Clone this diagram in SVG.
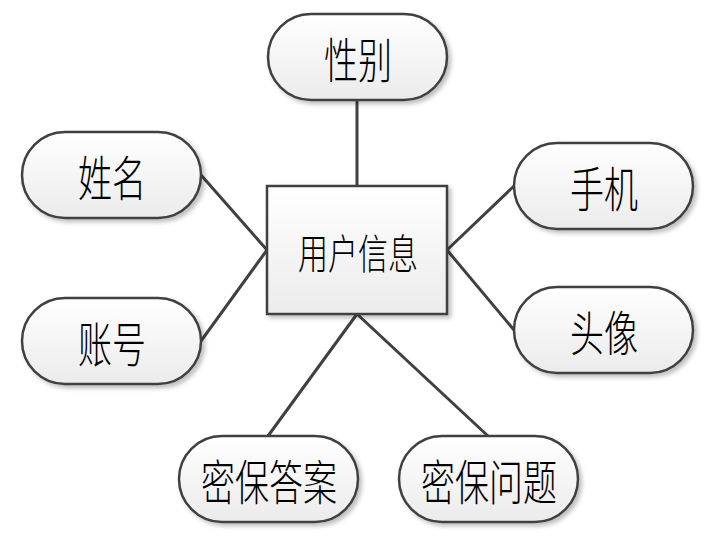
<svg xmlns="http://www.w3.org/2000/svg" width="713" height="541" viewBox="0 0 713 541">
<defs>
<linearGradient id="g" x1="0" y1="0" x2="0" y2="1">
<stop offset="0" stop-color="#ffffff"/>
<stop offset="1" stop-color="#ebebeb"/>
</linearGradient>
<filter id="sh" x="-10%" y="-10%" width="125%" height="130%">
<feDropShadow dx="3" dy="3" stdDeviation="2" flood-color="#000" flood-opacity="0.25"/>
</filter>
</defs>
<style>
.n{fill:url(#g);stroke:#404040;stroke-width:2.5;filter:url(#sh)}
.t{font-family:"Noto Sans CJK SC","Noto Sans CJK JP",sans-serif;font-weight:300;font-size:34px;fill:#000;text-anchor:middle;dominant-baseline:central}
.c{font-size:30px}
.e{stroke:#404040;stroke-width:3;fill:none}
</style>
<rect width="713" height="541" fill="#fff"/>
<g id="edges">
<line class="e" x1="357" y1="100" x2="357" y2="186"/>
<line class="e" x1="201" y1="175" x2="267" y2="250"/>
<line class="e" x1="201" y1="341" x2="267" y2="250"/>
<line class="e" x1="514" y1="186" x2="447" y2="250"/>
<line class="e" x1="514" y1="330" x2="447" y2="250"/>
<line class="e" x1="268" y1="436" x2="357" y2="314"/>
<line class="e" x1="488" y1="436" x2="357" y2="314"/>
</g>
<g id="user">
<rect class="n" x="267" y="186" width="180" height="128"/>
<text class="t c" transform="translate(358,251) scale(1,1.35)">用户信息</text>
</g>
<g id="gender">
<rect class="n" x="268" y="14" width="179" height="86" rx="43"/>
<text class="t" transform="translate(358,57) scale(1,1.4)">性别</text>
</g>
<g id="name">
<rect class="n" x="22" y="132" width="179" height="86" rx="43"/>
<text class="t" transform="translate(112,175) scale(1,1.4)">姓名</text>
</g>
<g id="account">
<rect class="n" x="22" y="298" width="179" height="86" rx="43"/>
<text class="t" transform="translate(112,341) scale(1,1.4)">账号</text>
</g>
<g id="phone">
<rect class="n" x="514" y="143" width="179" height="86" rx="43"/>
<text class="t" transform="translate(604,186) scale(1,1.4)">手机</text>
</g>
<g id="avatar">
<rect class="n" x="514" y="287" width="179" height="86" rx="43"/>
<text class="t" transform="translate(604,330) scale(1,1.4)">头像</text>
</g>
<g id="answer">
<rect class="n" x="179" y="436" width="179" height="86" rx="43"/>
<text class="t" transform="translate(269,479) scale(1,1.4)">密保答案</text>
</g>
<g id="question">
<rect class="n" x="399" y="436" width="179" height="86" rx="43"/>
<text class="t" transform="translate(489,479) scale(1,1.4)">密保问题</text>
</g>
</svg>
